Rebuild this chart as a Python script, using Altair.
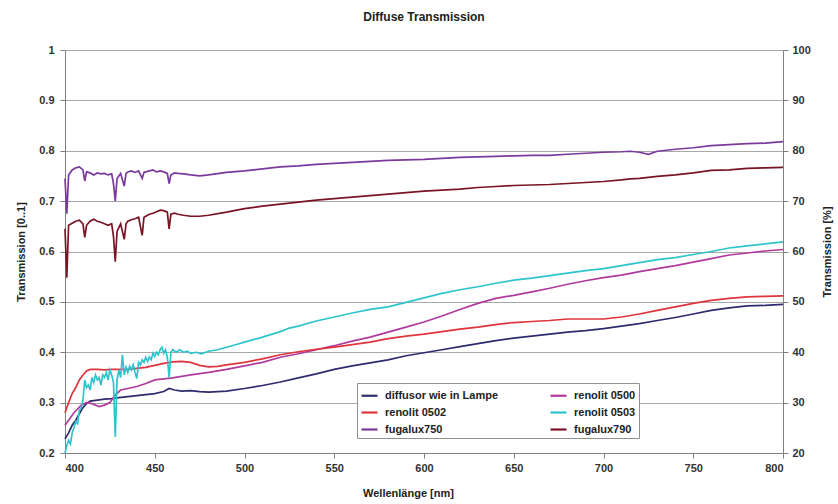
import altair as alt
import pandas as pd

SERIES = ["diffusor wie in Lampe", "renolit 0500", "renolit 0502",
          "renolit 0503", "fugalux750", "fugalux790"]
COLORS = ["#2E2C6E", "#B03A9E", "#E0343C", "#2EC4CC", "#7A3A9C", "#7A1424"]

X_TICKS = [400, 450, 500, 550, 600, 650, 700, 750, 800]
Y_TICKS = [0.2, 0.3, 0.4, 0.5, 0.6, 0.7, 0.8, 0.9, 1.0]
PCT_TICKS = [20, 30, 40, 50, 60, 70, 80, 90, 100]

# fugalux750 / fugalux790 share a wavelength grid
FUG_WL = [400, 401, 402, 404, 406, 408, 410, 411, 412, 414, 416, 418, 420, 422,
          424, 426, 427, 428, 429, 431, 433, 434, 435, 437, 439, 441, 443, 444,
          445, 447, 449, 451, 453, 455, 457, 458, 459, 461, 463, 466, 470, 475,
          480, 490, 500, 510, 520, 530, 540, 550, 560, 570, 580, 590, 600, 610,
          620, 630, 640, 650, 660, 670, 680, 690, 700, 710, 715, 720, 725, 730,
          740, 750, 760, 770, 780, 790, 800]
FUG750_T = [0.745, 0.675, 0.752, 0.762, 0.766, 0.768, 0.762, 0.740, 0.758, 0.756,
            0.752, 0.756, 0.754, 0.755, 0.752, 0.754, 0.735, 0.700, 0.745, 0.755,
            0.730, 0.755, 0.758, 0.760, 0.757, 0.760, 0.745, 0.757, 0.758, 0.760,
            0.762, 0.758, 0.760, 0.758, 0.755, 0.735, 0.752, 0.756, 0.755, 0.754,
            0.752, 0.750, 0.752, 0.757, 0.760, 0.764, 0.768, 0.770, 0.773, 0.775,
            0.777, 0.779, 0.781, 0.782, 0.783, 0.785, 0.787, 0.788, 0.789, 0.790,
            0.791, 0.791, 0.793, 0.795, 0.797, 0.798, 0.799, 0.797, 0.793, 0.799,
            0.803, 0.806, 0.810, 0.812, 0.814, 0.815, 0.818]
FUG790_T = [0.645, 0.548, 0.652, 0.656, 0.660, 0.662, 0.655, 0.628, 0.652, 0.660,
            0.664, 0.660, 0.658, 0.655, 0.652, 0.655, 0.630, 0.580, 0.640, 0.655,
            0.624, 0.655, 0.660, 0.663, 0.665, 0.668, 0.632, 0.668, 0.670, 0.674,
            0.676, 0.679, 0.682, 0.681, 0.678, 0.645, 0.674, 0.676, 0.674, 0.672,
            0.670, 0.670, 0.672, 0.678, 0.685, 0.690, 0.694, 0.698, 0.702, 0.705,
            0.708, 0.711, 0.714, 0.717, 0.720, 0.722, 0.724, 0.727, 0.729, 0.731,
            0.732, 0.733, 0.735, 0.737, 0.739, 0.742, 0.744, 0.745, 0.747, 0.749,
            0.752, 0.756, 0.761, 0.762, 0.765, 0.766, 0.767]

R0503_WL = [400, 401, 402, 403, 404, 405, 406, 407, 408, 409, 410, 411, 412, 413,
            414, 415, 416, 417, 418, 419, 420, 421, 422, 423, 424, 425, 426, 427,
            428, 429, 430, 431, 432, 433, 434, 435, 436, 437, 438, 439, 440, 441,
            442, 443, 444, 445, 446, 447, 448, 449, 450, 451, 452, 453, 454, 455,
            456, 457, 458, 459, 460, 462, 464, 466, 468, 470, 473, 476, 480, 485,
            490, 495, 500, 510, 520, 525, 530, 540, 550, 560, 570, 580, 590, 600,
            610, 620, 630, 640, 650, 660, 670, 680, 690, 700, 710, 720, 730, 740,
            750, 760, 770, 780, 790, 800]
R0503_T = [0.200, 0.215, 0.225, 0.218, 0.240, 0.250, 0.262, 0.258, 0.285, 0.290,
           0.305, 0.345, 0.330, 0.335, 0.325, 0.350, 0.340, 0.355, 0.345, 0.350,
           0.335, 0.355, 0.350, 0.360, 0.345, 0.365, 0.355, 0.340, 0.232, 0.345,
           0.365, 0.350, 0.395, 0.355, 0.370, 0.360, 0.372, 0.365, 0.375, 0.360,
           0.348, 0.380, 0.375, 0.385, 0.380, 0.390, 0.382, 0.390, 0.385, 0.398,
           0.392, 0.400, 0.395, 0.405, 0.410, 0.398, 0.405, 0.390, 0.350, 0.400,
           0.405, 0.400, 0.405, 0.400, 0.402, 0.398, 0.400, 0.397, 0.402, 0.405,
           0.410, 0.415, 0.420, 0.430, 0.441, 0.448, 0.452, 0.462, 0.470, 0.478,
           0.485, 0.490, 0.499, 0.508, 0.517, 0.524, 0.530, 0.537, 0.543, 0.547,
           0.552, 0.557, 0.562, 0.566, 0.572, 0.578, 0.584, 0.588, 0.594, 0.600,
           0.607, 0.611, 0.615, 0.619]

R0500_WL = [400, 405, 409, 412, 415, 419, 422, 425, 428, 431, 435, 440, 445, 450,
            455, 460, 465, 470, 480, 490, 500, 510, 520, 530, 540, 550, 560, 570,
            580, 590, 600, 610, 620, 630, 640, 650, 660, 670, 680, 690, 700, 710,
            720, 730, 740, 750, 760, 770, 780, 790, 800]
R0500_T = [0.255, 0.280, 0.295, 0.300, 0.298, 0.292, 0.295, 0.300, 0.315, 0.325,
           0.328, 0.332, 0.338, 0.345, 0.347, 0.349, 0.352, 0.355, 0.360, 0.366,
           0.373, 0.380, 0.390, 0.397, 0.405, 0.413, 0.422, 0.430, 0.440, 0.450,
           0.460, 0.472, 0.485, 0.497, 0.507, 0.513, 0.520, 0.527, 0.535, 0.542,
           0.548, 0.553, 0.560, 0.566, 0.572, 0.579, 0.586, 0.593, 0.597, 0.601,
           0.604]

R0502_WL = [400, 401, 402, 404, 406, 408, 410, 412, 414, 418, 422, 426, 430, 435,
            440, 445, 450, 455, 460, 465, 470, 475, 480, 485, 490, 500, 510, 520,
            530, 540, 550, 560, 570, 580, 590, 600, 610, 620, 630, 640, 650, 660,
            670, 680, 690, 700, 710, 720, 730, 740, 750, 760, 770, 780, 790, 800]
R0502_T = [0.280, 0.290, 0.300, 0.318, 0.330, 0.345, 0.355, 0.363, 0.366, 0.366,
           0.365, 0.366, 0.366, 0.366, 0.368, 0.370, 0.374, 0.378, 0.381, 0.382,
           0.380, 0.374, 0.371, 0.372, 0.375, 0.380, 0.387, 0.395, 0.401, 0.406,
           0.410, 0.415, 0.420, 0.427, 0.432, 0.436, 0.441, 0.446, 0.450, 0.455,
           0.459, 0.461, 0.463, 0.466, 0.466, 0.466, 0.470, 0.476, 0.483, 0.490,
           0.497, 0.503, 0.507, 0.510, 0.511, 0.512]

DIFF_WL = [400, 402, 404, 406, 408, 410, 412, 414, 418, 422, 426, 430, 435, 440,
           445, 450, 455, 458, 461, 465, 470, 475, 480, 490, 500, 510, 520, 530,
           540, 550, 560, 570, 580, 590, 600, 610, 620, 630, 640, 650, 660, 670,
           680, 690, 700, 710, 720, 730, 740, 750, 760, 770, 780, 790, 800]
DIFF_T = [0.228, 0.240, 0.255, 0.265, 0.278, 0.290, 0.298, 0.303, 0.305, 0.307,
          0.308, 0.310, 0.312, 0.314, 0.316, 0.318, 0.322, 0.328, 0.325, 0.323,
          0.324, 0.322, 0.321, 0.323, 0.328, 0.334, 0.341, 0.349, 0.357, 0.366,
          0.373, 0.379, 0.385, 0.393, 0.399, 0.405, 0.411, 0.417, 0.423, 0.428,
          0.432, 0.436, 0.440, 0.443, 0.447, 0.452, 0.457, 0.463, 0.469, 0.476,
          0.483, 0.488, 0.492, 0.493, 0.495]

frames = []
for name, wl, t in [
    (SERIES[0], DIFF_WL, DIFF_T),
    (SERIES[1], R0500_WL, R0500_T),
    (SERIES[2], R0502_WL, R0502_T),
    (SERIES[3], R0503_WL, R0503_T),
    (SERIES[4], FUG_WL, FUG750_T),
    (SERIES[5], FUG_WL, FUG790_T),
]:
    frames.append(pd.DataFrame({"wl": wl, "T": t, "series": name}))
df = pd.concat(frames, ignore_index=True)

FONT = "Liberation Sans"

x_enc = alt.X(
    "wl:Q",
    scale=alt.Scale(domain=[400, 800], nice=False, zero=False),
    axis=alt.Axis(values=X_TICKS, title="Wellenlänge [nm]", grid=False,
                  tickSize=5, labelPadding=4, titlePadding=14, titleX=343,
                  domainColor="#808080", tickColor="#808080"),
)

lines = alt.Chart(df).mark_line(strokeWidth=1.7).encode(
    x=x_enc,
    y=alt.Y(
        "T:Q",
        scale=alt.Scale(domain=[0.2, 1.0], nice=False, zero=False),
        axis=alt.Axis(values=Y_TICKS, format="~g", title="Transmission [0..1]",
                      grid=True, gridColor="#a8a8a8", tickSize=5,
                      labelPadding=6, titlePadding=12,
                      domainColor="#808080", tickColor="#808080"),
    ),
    color=alt.Color(
        "series:N",
        scale=alt.Scale(domain=SERIES, range=COLORS),
        legend=alt.Legend(
            title=None, orient="none", legendX=292, legendY=333, columns=2,
            direction="horizontal",
            symbolType="stroke", symbolSize=256, symbolStrokeWidth=2.2,
            labelFont=FONT, labelFontSize=11, labelFontWeight="bold",
            labelColor="#222222", labelOffset=6, columnPadding=47,
            rowPadding=2, padding=3, strokeColor="#909090", fillColor="white",
            gridAlign="all",
        ),
    ),
)

right = alt.Chart(df).transform_calculate(pct="datum.T * 100").mark_point(
    opacity=0
).encode(
    x="wl:Q",
    y=alt.Y(
        "pct:Q",
        scale=alt.Scale(domain=[20, 100], nice=False, zero=False),
        axis=alt.Axis(values=PCT_TICKS, orient="right", title="Transmission [%]",
                      grid=False, tickSize=5, labelPadding=4, titlePadding=22,
                      titleAngle=-90,
                      domainColor="#808080", tickColor="#808080"),
    ),
)

chart = alt.layer(lines, right).resolve_scale(y="independent").properties(
    width=718,
    height=403,
    autosize=alt.AutoSizeParams(type="none"),
    padding={"left": 65, "top": 50, "right": 55, "bottom": 51},
    title=alt.TitleParams("Diffuse Transmission", font=FONT, fontSize=12,
                          fontWeight="bold", color="#222222", offset=20,
                          anchor="middle"),
).configure_axis(
    labelFont=FONT, labelFontSize=11, labelFontWeight="bold",
    labelColor="#333333", titleFont=FONT, titleFontSize=11,
    titleFontWeight="bold", titleColor="#222222",
).configure_view(stroke="transparent")

chart.save("out.html", embed_options={"renderer": "svg", "actions": False})
